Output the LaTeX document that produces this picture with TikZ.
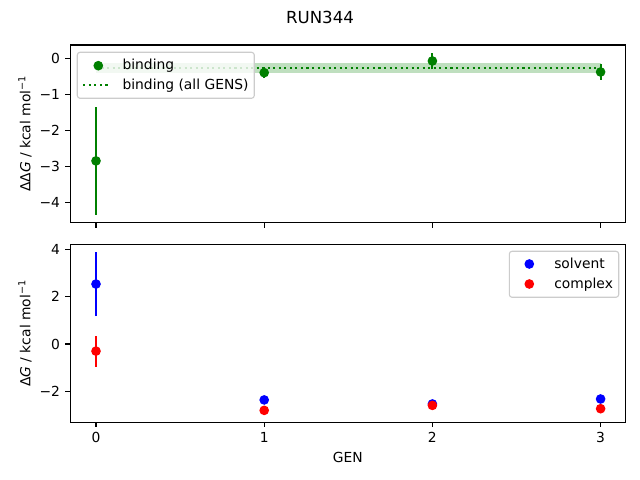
\documentclass[tikz,border=0pt]{standalone}
\usepackage{fontspec}
\setmainfont{DejaVu Sans}
\definecolor{mplgreen}{RGB}{0,128,0}
\definecolor{mplblue}{RGB}{0,0,255}
\definecolor{mplred}{RGB}{255,0,0}
\definecolor{legendedge}{RGB}{204,204,204}
\tikzset{
  dot/.style={circle, fill=#1, inner sep=0pt, minimum size=7pt},
  errbar/.style={line width=1.5pt},
  frame/.style={line width=0.8pt},
  legendbox/.style={draw=legendedge, fill=white, fill opacity=0.8, rounded corners=2pt, line width=0.8pt},
  allgens/.style={mplgreen, line width=1.5pt, dash pattern=on 1.5pt off 2.5pt},
  legtext/.style={anchor=base west, inner sep=0pt},
}
\begin{document}
\begin{tikzpicture}[x=0.01in, y=-0.01in, font=\fontsize{10}{12}\selectfont]
  \useasboundingbox[fill=white] (0,0) rectangle (640,480);
  \node (title) at (320,17) {\fontsize{12}{14}\selectfont RUN344};

  % binding
  \begin{scope}[shift={(96,58.3)}, xscale=168.2, yscale=-36]
    \fill[mplgreen, opacity=0.25] (0,-0.14) rectangle (3,-0.40);
    \draw[allgens] (0,-0.27) -- (3,-0.27);
    \foreach \g/\v/\e in {0/-2.85/1.49, 1/-0.40/0.15, 2/-0.075/0.23, 3/-0.38/0.22} {
      \draw[errbar, mplgreen] (\g,{\v-\e}) -- (\g,{\v+\e});
      \node[dot=mplgreen] (b\g) at (\g,\v) {};
    }
  \end{scope}
  \draw[frame] (70.3,45) rectangle (625.3,222.7);
  \foreach \v/\t in {0/0, -1/−1, -2/−2, -3/−3, -4/−4}
    \draw[frame] (70.3,{58.3-36*\v}) -- ++(-3.5pt,0)
      node[anchor=east, inner sep=0pt, xshift=-3.5pt] (ytop\v) {\t};
  \foreach \g in {0,...,3}
    \draw[frame] ({96+168.2*\g},222.7) -- ++(0,-3.5pt);
  \node[rotate=90] (ylabtop) at (25,133.8) {ΔΔ\textit{G} / kcal mol\textsuperscript{−1}};
  \draw[legendbox] (77.3,52.3) rectangle (254.3,98.3);
  \node[dot=mplgreen] (legbind) at (98.3,65.7) {};
  \node[legtext] (txtbind) at (122.3,70) {binding};
  \draw[allgens] (83.3,85) -- (110,85);
  \node[legtext] (txtall) at (122.3,89.3) {binding (all GENS)};

  % solvent and complex
  \begin{scope}[shift={(96,344)}, xscale=168.2, yscale=-23.7]
    \draw[errbar, mplblue] (0,1.18) -- (0,3.88);
    \draw[errbar, mplred] (0,-0.96) -- (0,0.35);
    \foreach \g/\s in {0/2.53, 1/-2.36, 2/-2.53, 3/-2.32}
      \node[dot=mplblue] (s\g) at (\g,\s) {};
    \foreach \g/\c in {0/-0.30, 1/-2.80, 2/-2.59, 3/-2.73}
      \node[dot=mplred] (c\g) at (\g,\c) {};
  \end{scope}
  \draw[frame] (70.3,244.3) rectangle (625.3,422.3);
  \foreach \v/\t in {4/4, 2/2, 0/0, -2/−2}
    \draw[frame] (70.3,{344-23.7*\v}) -- ++(-3.5pt,0)
      node[anchor=east, inner sep=0pt, xshift=-3.5pt] (ybot\v) {\t};
  \foreach \g in {0,...,3}
    \draw[frame] ({96+168.2*\g},422.3) -- ++(0,-3.5pt)
      node[anchor=north, inner sep=0pt, yshift=-3.5pt] (xbot\g) {\g};
  \node[rotate=90] (ylabbot) at (25,333.3) {Δ\textit{G} / kcal mol\textsuperscript{−1}};
  \node (xlab) at (347.8,457) {GEN};
  \draw[legendbox] (509.3,251.3) rectangle (618.7,297.3);
  \node[dot=mplblue] (legsolv) at (529.3,264) {};
  \node[legtext] (txtsolv) at (554,268.3) {solvent};
  \node[dot=mplred] (legcplx) at (529.3,284) {};
  \node[legtext] (txtcplx) at (554,288.3) {complex};
\end{tikzpicture}
\end{document}
